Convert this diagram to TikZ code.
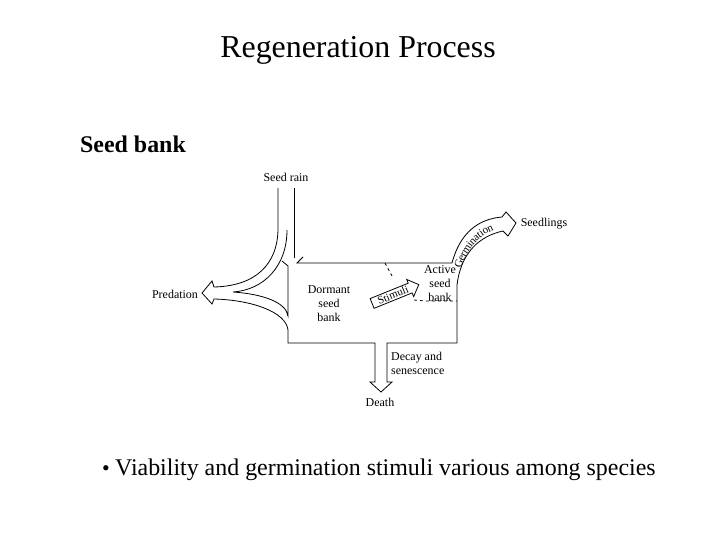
\documentclass[tikz,border=0pt]{standalone}
\usepackage{fontspec}
\setmainfont{Liberation Serif}
\usetikzlibrary{positioning,shapes.arrows,decorations.text}

\begin{document}
\begin{tikzpicture}[
    x=1bp, y=-1bp,
    lbl/.style={font=\fontsize{12}{14}\selectfont, inner sep=0pt, align=center},
    outline/.style={line width=0.8bp, line join=miter},
    stimarrow/.style={draw, line width=0.8bp, single arrow, rotate=22,
                      font=\fontsize{11}{12}\selectfont, inner xsep=6bp, inner ysep=1bp,
                      single arrow head extend=4bp},
]

\useasboundingbox (0,0) rectangle (720,540);

% Slide text
\node[anchor=base, font=\fontsize{32}{38}\selectfont] (title) at (358,58) {Regeneration Process};
\node[anchor=base west, inner sep=0pt, font=\bfseries\fontsize{24}{28}\selectfont] (sub) at (80,153) {Seed bank};
\node[anchor=base, inner sep=0pt, font=\fontsize{22}{28}\selectfont] (dot) at (106,475) {\textbullet};
\node[anchor=base west, inner sep=0pt, font=\fontsize{24}{28}\selectfont] (note) at (115,475)
    {Viability and germination stimuli various among species};

% Labels
\node[lbl] (rain)  at (286,177) {Seed rain};
\node[lbl] (pred)  at (175,294) {Predation};
\node[lbl] (seedl) at (544,224) {Seedlings};
\node[lbl] (dorm)  at (329,304) {Dormant\\seed\\bank};
\node[lbl] (act)   at (440,284) {Active\\seed\\bank};
\node[lbl, align=left, anchor=west] (decay) at (391,363) {Decay and\\senescence};
\node[lbl] (death) at (380,402) {Death};

% Outline of the bank with its flows
\draw[outline] (278,188) -- (278,228) .. controls (278,265) and (255,286) .. (214,287)
    -- (212,281) -- (202,293) -- (212,304) -- (214,299)
    .. controls (252,300) and (286,312) .. (288,330) -- (288,343) -- (375,343)
    -- (375,382) -- (370,382) -- (381,392) -- (392,382) -- (387,382) -- (387,343)
    -- (457,343) -- (457,285) .. controls (461,252) and (480,236) .. (503,231)
    -- (508,236) -- (516,223) -- (506,212) -- (502,217)
    .. controls (478,219) and (460,233) .. (452,263) -- (297,263) -- (303,257);
\draw[outline] (294,188) -- (294,258);
\draw[outline] (287,230) .. controls (287,267) and (263,290) .. (233,292)
    .. controls (262,294) and (286,302) .. (288,316) -- (288,266) -- (282,261);

% Active seed bank
\draw[outline, dashed] (385,263) -- (392,276);
\draw[outline, dashed] (414,300) -- (425,301) -- (457,301);
\node[stimarrow] (stim) at (393,295) {Stimuli};

% Germination
\path[decorate, decoration={text along path, text align=center, raise=-3.5pt,
      text={|\fontsize{11}{12}\selectfont|Germination}}]
    (454,280) .. controls (461,246) and (480,227) .. (505,224);

\end{tikzpicture}
\end{document}
